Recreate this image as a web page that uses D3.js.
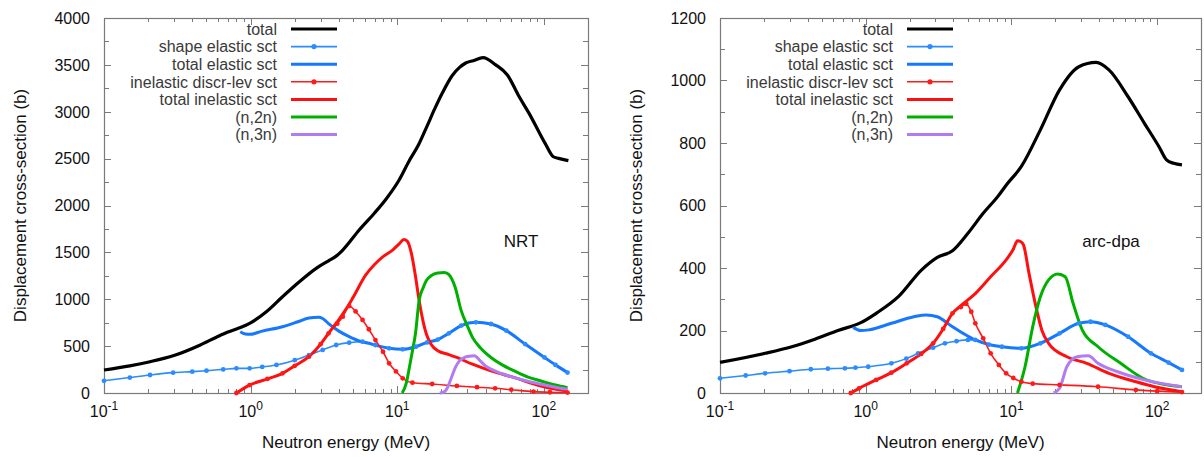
<!DOCTYPE html>
<html>
<head>
<meta charset="utf-8">
<script src="https://cdn.jsdelivr.net/npm/d3@7"></script>
<style>
  body { margin: 0; background: #fff; }
  text { font-family: "Liberation Sans", Arial, Helvetica, sans-serif; }
</style>
</head>
<body>
<div id="chart"></div>
<script>
// ---- Data: [neutron energy (MeV), displacement cross-section (b)] ----

// NRT panel
const nrtTotal = [[0.1,245],[0.15,290],[0.206,334],[0.3,400],[0.45,510],[0.584,595],[0.7,650],[0.841,695],[0.985,743],[1.28,867],[1.65,1027],[2.15,1187],[2.8,1330],[3.4,1410],[3.83,1460],[4.25,1525],[5.5,1739],[7.0,1920],[8.4,2070],[10.3,2272],[12,2470],[14,2650],[16,2850],[18,3030],[20.3,3200],[23.8,3390],[26.5,3470],[29.3,3520],[33,3545],[38.5,3577],[47,3500],[56.4,3392],[67.9,3160],[79.3,2983],[102,2663],[116,2520],[126,2503],[147,2478]];
const nrtShapeElastic = [[0.1,130],[0.15,165],[0.206,192],[0.296,217],[0.4,228],[0.5,238],[0.65,252],[0.8,263],[0.985,263],[1.2,278],[1.5,299],[2.0,350],[2.5,405],[3.1,460],[3.83,512],[4.7,537],[5.8,547],[7.1,512],[8.8,477],[10.9,466],[13.4,494],[16,540],[18.9,570],[22.5,637],[27.3,719],[34.4,754],[43.6,736],[55.5,665],[74.5,522],[101,379],[120,300],[145,218]];
const nrtTotalElastic = [[0.85,654],[0.92,630],[0.985,626],[1.2,660],[1.65,707],[2.1,760],[2.5,800],[2.9,807],[3.1,795],[3.4,740],[4.0,660],[4.7,601],[5.5,555],[6.4,530],[7.5,500],[8.8,477],[10.9,466],[13.4,494],[16,540],[18.9,570],[22.5,637],[27.3,719],[34.4,754],[43.6,736],[55.5,665],[74.5,522],[101,379],[120,300],[145,218]];
const nrtDiscrete = [[0.8,0],[0.985,85],[1.3,150],[1.65,210],[2.0,290],[2.5,387],[3.0,520],[3.4,637],[3.9,740],[4.25,814],[4.7,928],[5.2,870],[5.8,779],[6.4,680],[7.1,565],[8.0,440],[8.8,317],[9.8,230],[10.9,157],[12.7,110],[17.3,96],[25.5,75],[35,62],[46.5,50],[60,35],[85,15],[110,8],[145,5]];
const nrtInelastic = [[0.8,0],[0.985,85],[1.3,150],[1.65,210],[2.0,290],[2.5,387],[3.0,520],[3.4,637],[3.9,760],[4.5,900],[5.0,1020],[6.1,1259],[7.0,1370],[8.0,1454],[9.3,1525],[10.3,1590],[11.1,1637],[11.7,1620],[12.5,1487],[13.3,1250],[14.1,987],[15.8,629],[17,520],[18.9,450],[22.5,410],[25.5,379],[32.6,307],[43.6,236],[62.9,164],[95.6,75],[145,21]];
const nrtN2n = [[10.8,0],[11.5,100],[12.1,272],[12.7,450],[13.3,629],[14.1,987],[15.0,1120],[15.8,1201],[17,1250],[18.9,1280],[21,1285],[22.6,1260],[24.8,1130],[27.3,879],[30,720],[32.6,593],[37,480],[43.6,379],[52,300],[62.9,236],[78,170],[95.6,128],[120,85],[145,57]];
const nrtN3n = [[19.5,0],[20.5,5],[22,57],[23.5,170],[24.9,272],[26.5,340],[28.8,379],[31,392],[33.6,397],[36.8,343],[40,290],[43.6,254],[52,205],[62.9,164],[80,120],[95.6,93],[120,62],[145,39]];

// arc-dpa panel
const arcTotal = [[0.1,98],[0.204,127],[0.311,148],[0.448,172],[0.645,200],[0.925,225],[1.18,255],[1.69,310],[2.42,394],[3.1,434],[3.94,455],[5.03,511],[6.4,575],[8.1,630],[9.2,665],[11.7,725],[15.8,842],[21.4,970],[29,1044],[38.1,1058],[46.7,1034],[63.2,948],[81.8,863],[103,788],[116,746],[130,735],[148,730]];
const arcShapeElastic = [[0.1,47],[0.15,56],[0.204,63],[0.3,70],[0.42,76],[0.55,78],[0.72,79],[0.85,81],[1.04,84],[1.5,95],[1.9,110],[2.29,127],[2.9,145],[3.5,159],[4.2,166],[5.03,170],[5.65,170],[7,155],[8.6,148],[11.7,143],[15.8,159],[21.4,191],[29,223],[34.9,228],[44.1,218],[63.2,180],[90.7,127],[120,97],[148,74]];
const arcTotalElastic = [[0.82,210],[0.925,200],[1.05,202],[1.5,223],[2.14,244],[2.6,250],[3.1,244],[3.94,212],[4.7,190],[5.65,170],[7,155],[8.6,148],[11.7,143],[15.8,159],[21.4,191],[29,223],[34.9,228],[44.1,218],[63.2,180],[90.7,127],[120,97],[148,74]];
const arcDiscrete = [[0.79,0],[0.9,15],[1.18,42],[1.5,65],[1.91,95],[2.4,125],[2.9,159],[3.4,205],[3.94,255],[4.5,275],[4.9,285],[5.3,260],[5.65,223],[6.4,175],[7.2,127],[8.2,90],[9.2,63],[10.3,48],[11.7,36],[14,30],[21.4,26],[39.3,20],[71.5,10],[100,6],[148,3]];
const arcInelastic = [[0.79,0],[0.9,15],[1.18,42],[1.5,65],[1.91,95],[2.4,125],[2.9,159],[3.4,205],[3.94,255],[4.5,280],[5.65,318],[7.2,372],[9.2,426],[10.3,460],[11.0,487],[11.6,484],[12.1,474],[13.2,383],[14.9,266],[16.2,200],[18,159],[24,116],[32.9,95],[46.7,63],[71.5,36],[95.8,20],[148,4]];
const arcN2n = [[11.0,0],[12.4,84],[14,212],[15.8,308],[18,362],[20.8,381],[23.4,372],[26.5,287],[30.6,202],[39.3,148],[56.2,95],[84.4,42],[148,20]];
const arcN3n = [[19.5,0],[21.4,15],[24,84],[28.3,116],[33.7,119],[39.3,95],[53.6,68],[81.8,42],[148,20]];

// legend labels, same order for both panels
const legendLabels = ["total", "shape elastic sct", "total elastic sct", "inelastic discr-lev sct", "total inelastic sct", "(n,2n)", "(n,3n)"];

// axis ticks
const xMajorTicks = [0.1, 1, 10, 100];
const nrtYTicks = [0, 500, 1000, 1500, 2000, 2500, 3000, 3500, 4000];
const arcYTicks = [0, 200, 400, 600, 800, 1000, 1200];

// ---- Styles ----
const styles = [
  {color: "#000000", width: 3.2, marker: false},
  {color: "#2b8cff", width: 1.6, marker: true},
  {color: "#1677ff", width: 3,   marker: false},
  {color: "#ff1a1a", width: 1.6, marker: true},
  {color: "#ff1010", width: 3,   marker: false},
  {color: "#00b000", width: 3,   marker: false},
  {color: "#b07cf2", width: 3,   marker: false}
];

const svg = d3.select("#chart")
  .append("svg")
  .attr("width", 1204)
  .attr("height", 457);

function drawPanel(p) {
  const x = d3.scaleLog().domain([0.1, 200]).range([p.left, p.right]);
  const y = d3.scaleLinear().domain([0, p.yMax]).range([p.bottom, p.top]);
  const g = svg.append("g");
  const frameColor = "#7a7a7a";

  // x ticks (top and bottom, pointing inwards)
  x.ticks().forEach(v => {
    const major = xMajorTicks.some(m => Math.abs(m - v) / m < 1e-6);
    const len = major ? 7 : 4;
    const xp = Math.round(x(v)) + 0.5;
    g.append("line").attr("x1", xp).attr("x2", xp).attr("y1", p.bottom).attr("y2", p.bottom - len)
      .attr("stroke", frameColor);
    g.append("line").attr("x1", xp).attr("x2", xp).attr("y1", p.top).attr("y2", p.top + len)
      .attr("stroke", frameColor);
  });

  // x tick labels: 10^k
  xMajorTicks.forEach(v => {
    const t = g.append("text")
      .attr("x", x(v))
      .attr("y", p.bottom + 24)
      .attr("text-anchor", "middle")
      .style("font-size", "16px")
      .style("fill", "#111");
    t.append("tspan").text("10");
    t.append("tspan")
      .attr("dy", -7)
      .style("font-size", "12px")
      .text(Math.round(Math.log10(v)));
  });

  // y ticks: labelled major ticks plus one minor tick between each pair
  const step = p.yTicks[1] - p.yTicks[0];
  d3.range(0, p.yMax + 1, step / 2).forEach(v => {
    const yp = Math.round(y(v)) + 0.5;
    const len = v % step === 0 ? 7 : 5;
    g.append("line").attr("x1", p.left).attr("x2", p.left + len).attr("y1", yp).attr("y2", yp)
      .attr("stroke", frameColor);
    g.append("line").attr("x1", p.right).attr("x2", p.right - len).attr("y1", yp).attr("y2", yp)
      .attr("stroke", frameColor);
  });

  p.yTicks.forEach(v => {
    g.append("text")
      .attr("x", p.left - 14)
      .attr("y", y(v))
      .attr("dy", "0.36em")
      .attr("text-anchor", "end")
      .style("font-size", "16px")
      .style("fill", "#111")
      .text(v);
  });

  // frame
  g.append("rect")
    .attr("x", p.left + 0.5)
    .attr("y", p.top + 0.5)
    .attr("width", p.right - p.left)
    .attr("height", p.bottom - p.top)
    .attr("fill", "none")
    .attr("stroke", frameColor)
    .attr("stroke-width", 1.2);

  // curves
  const line = d3.line()
    .x(d => x(d[0]))
    .y(d => y(d[1]))
    .curve(d3.curveMonotoneX);

  p.series.forEach((s, i) => {
    g.append("path")
      .datum(s)
      .attr("d", line)
      .attr("fill", "none")
      .attr("stroke", styles[i].color)
      .attr("stroke-width", styles[i].width)
      .attr("stroke-linejoin", "round");
  });

  // markers on the thin curves
  p.series.forEach((s, i) => {
    if (!styles[i].marker) return;
    g.append("g")
      .selectAll("circle")
      .data(s)
      .join("circle")
      .attr("cx", d => x(d[0]))
      .attr("cy", d => y(d[1]))
      .attr("r", 2.4)
      .attr("fill", styles[i].color);
  });

  // legend
  const legend = g.append("g").attr("transform", `translate(${p.left},${p.top})`);
  const row = legend.selectAll("g")
    .data(legendLabels)
    .join("g")
    .attr("transform", (_, i) => `translate(0,${11 + i * 17.6})`);

  row.append("text")
    .attr("x", 173)
    .attr("dy", "0.36em")
    .attr("text-anchor", "end")
    .style("font-size", "16px")
    .style("fill", "#3a3a3a")
    .text(d => d);

  row.append("line")
    .attr("x1", 187)
    .attr("x2", 233)
    .attr("stroke", (_, i) => styles[i].color)
    .attr("stroke-width", (_, i) => styles[i].width);

  row.filter((_, i) => styles[i].marker)
    .append("circle")
    .attr("cx", 210)
    .attr("r", 2.6)
    .attr("fill", (_, i) => styles[[1, 3][i]].color);

  // method label
  g.append("text")
    .attr("x", p.tagX)
    .attr("y", 247)
    .attr("text-anchor", "middle")
    .style("font-size", "17px")
    .style("fill", "#111")
    .text(p.tag);

  // axis titles
  g.append("text")
    .attr("x", (p.left + p.right) / 2)
    .attr("y", 448)
    .attr("text-anchor", "middle")
    .style("font-size", "17px")
    .style("fill", "#111")
    .text("Neutron energy (MeV)");

  g.append("text")
    .attr("transform", `translate(${p.left - 84},${(p.top + p.bottom) / 2}) rotate(-90)`)
    .attr("text-anchor", "middle")
    .attr("dy", "0.36em")
    .style("font-size", "17px")
    .style("fill", "#111")
    .text("Displacement cross-section (b)");
}

drawPanel({
  left: 104, right: 588, top: 18, bottom: 393,
  yMax: 4000, yTicks: nrtYTicks,
  tag: "NRT", tagX: 521,
  series: [nrtTotal, nrtShapeElastic, nrtTotalElastic, nrtDiscrete, nrtInelastic, nrtN2n, nrtN3n]
});

drawPanel({
  left: 720, right: 1201, top: 18, bottom: 393,
  yMax: 1200, yTicks: arcYTicks,
  tag: "arc-dpa", tagX: 1111,
  series: [arcTotal, arcShapeElastic, arcTotalElastic, arcDiscrete, arcInelastic, arcN2n, arcN3n]
});
</script>
</body>
</html>
